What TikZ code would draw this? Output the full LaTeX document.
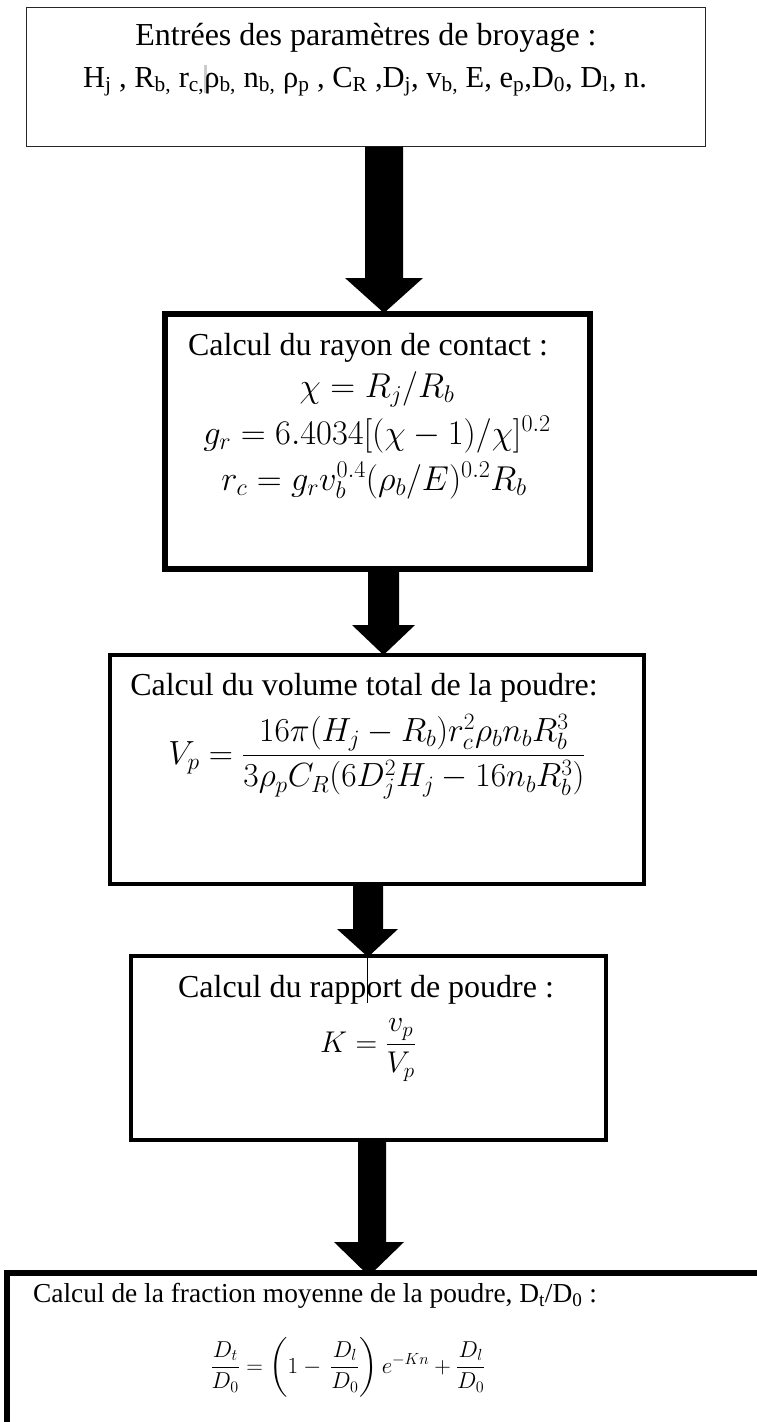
\RequirePackage{fix-cm}
\documentclass[tikz,border=0pt]{standalone}
\usepackage{amsmath}
\usepackage{fontspec}
\setmainfont{Liberation Serif}
\usetikzlibrary{calc}
\newcommand{\bigtxt}{\fontsize{32}{38}\selectfont}
\newcommand{\linetxt}{\fontsize{30.5}{36}\selectfont}
\newcommand{\midtxt}{\fontsize{27.4}{33}\selectfont}
\newcommand{\mathtwo}{\fontsize{34.5}{41}\selectfont}
\newcommand{\maththree}{\fontsize{33.5}{40}\selectfont}
\newcommand{\mathK}{\fontsize{30}{36}\selectfont}
\newcommand{\mathsmall}{\fontsize{23}{28}\selectfont}
\newcommand{\sbs}[1]{\textsubscript{#1}}
\newcommand{\cursormark}{\makebox[0pt][l]{\textcolor{black!20}{\rule[-6pt]{3pt}{28pt}}}}
\begin{document}
\begin{tikzpicture}[x=1pt,y=-1pt,
  boxthin/.style={draw=black!85,line width=1.2pt,inner sep=0pt,outer sep=0pt},
  boxthick/.style={draw=black,line width=6pt,inner sep=0pt,outer sep=0pt},
  boxmid/.style={draw=black,line width=4pt,inner sep=0pt,outer sep=0pt},
  txt/.style={inner sep=0pt,anchor=base,font=\bigtxt},
  txtline/.style={inner sep=0pt,anchor=base,font=\linetxt},
  txtsmall/.style={inner sep=0pt,anchor=base,font=\midtxt},
  eqtwo/.style={inner sep=0pt,anchor=base,font=\mathtwo},
  eqthree/.style={inner sep=0pt,anchor=base,font=\maththree},
  eqK/.style={inner sep=0pt,anchor=base,font=\mathK},
  eqsmall/.style={inner sep=0pt,anchor=base,font=\mathsmall},
  blockarrow/.style={fill=black,draw=none}]
\useasboundingbox (0,0) rectangle (756,1422);
% boxes
\node[boxthin,minimum width=679pt,minimum height=139pt] (b1) at (366,77) {};
\node[boxthick,minimum width=425pt,minimum height=255pt] (b2) at (377.5,441.5) {};
\node[boxmid,minimum width=534pt,minimum height=229pt] (b3) at (377,769.5) {};
\node[boxmid,minimum width=475pt,minimum height=184pt] (b4) at (368.5,1048) {};
\draw[line width=6pt] (900,1273) -- (7,1273) coordinate (b5tl) -- (7,1500);
\coordinate (b5) at (370,1273);
% block arrows
\fill[blockarrow] let \p1=(b1.south), \p2=(b2.north) in
  (365pt,\y1) -- (403pt,\y1) -- (403pt,\y2+36pt) -- (423pt,\y2+36pt) -- (384pt,\y2+1pt)
  -- (345pt,\y2+36pt) -- (365pt,\y2+36pt) -- cycle;
\fill[blockarrow] let \p1=(b2.south), \p2=(b3.north) in
  (368pt,\y1) -- (399pt,\y1) -- (399pt,\y2+30pt) -- (415pt,\y2+30pt) -- (383.5pt,\y2)
  -- (352pt,\y2+30pt) -- (368pt,\y2+30pt) -- cycle;
\fill[blockarrow] let \p1=(b3.south), \p2=(b4.north) in
  (353pt,\y1) -- (383pt,\y1) -- (383pt,\y2+27pt) -- (398pt,\y2+27pt) -- (368pt,\y2-1pt)
  -- (337pt,\y2+27pt) -- (353pt,\y2+27pt) -- cycle;
\fill[blockarrow] let \p1=(b4.south), \p2=(b5) in
  (358pt,\y1) -- (386pt,\y1) -- (386pt,\y2+31pt) -- (404pt,\y2+31pt) -- (369pt,\y2-3pt)
  -- (334pt,\y2+31pt) -- (358pt,\y2+31pt) -- cycle;
% thin stray line in box 4
\coordinate (tl) at (367.5,1003);
\draw[line width=0.8pt] (b4.north -| tl) -- (tl);
% box 1 text
\node[txt] (t1a) at (366,45) {Entrées des paramètres de broyage :};
\node[txtline] (t1b) at (365,87) {H\sbs{j} , R\sbs{b,} r\sbs{c,}\cursormark ρ\sbs{b,} n\sbs{b,} ρ\sbs{p} , C\sbs{R} ,D\sbs{j}, v\sbs{b,} E, e\sbs{p},D\sbs{0}, D\sbs{l}, n.};
% box 2 text
\node[txt] (t2a) at (368,355) {Calcul du rayon de contact :};
\node[eqtwo] (t2b) at (377,397) {$\chi = R_j/R_b$};
\node[eqtwo] (t2c) at (377,444) {$g_r = 6.4034[(\chi-1)/\chi]^{0.2}$};
\node[eqtwo] (t2d) at (374,490) {$r_c = g_r v_b^{0.4}(\rho_b/E)^{0.2}R_b$};
% box 3 text
\node[txt] (t3a) at (364,695) {Calcul du volume total de la poudre:};
\node[eqthree] (t3b) at (377,764) {$V_p = \dfrac{16\pi(H_j-R_b)r_c^2\rho_b n_b R_b^3}{3\rho_p C_R(6D_j^2H_j-16n_bR_b^3)}$};
% box 4 text
\node[txt] (t4a) at (366,997) {Calcul du rapport de poudre :};
\node[eqK] (t4b) at (368,1052) {$K=\dfrac{v_p}{V_p}$};
% box 5 text
\node[txtsmall] (t5a) at (315,1302) {Calcul de la fraction moyenne de la poudre, D\sbs{t}/D\sbs{0} :};
\node[eqsmall] (t5b) at (348,1373) {$\dfrac{D_t}{D_0} = \left(1-\,\dfrac{D_l}{D_0}\right)e^{-Kn}+\dfrac{D_l}{D_0}$};
\end{tikzpicture}
\end{document}
